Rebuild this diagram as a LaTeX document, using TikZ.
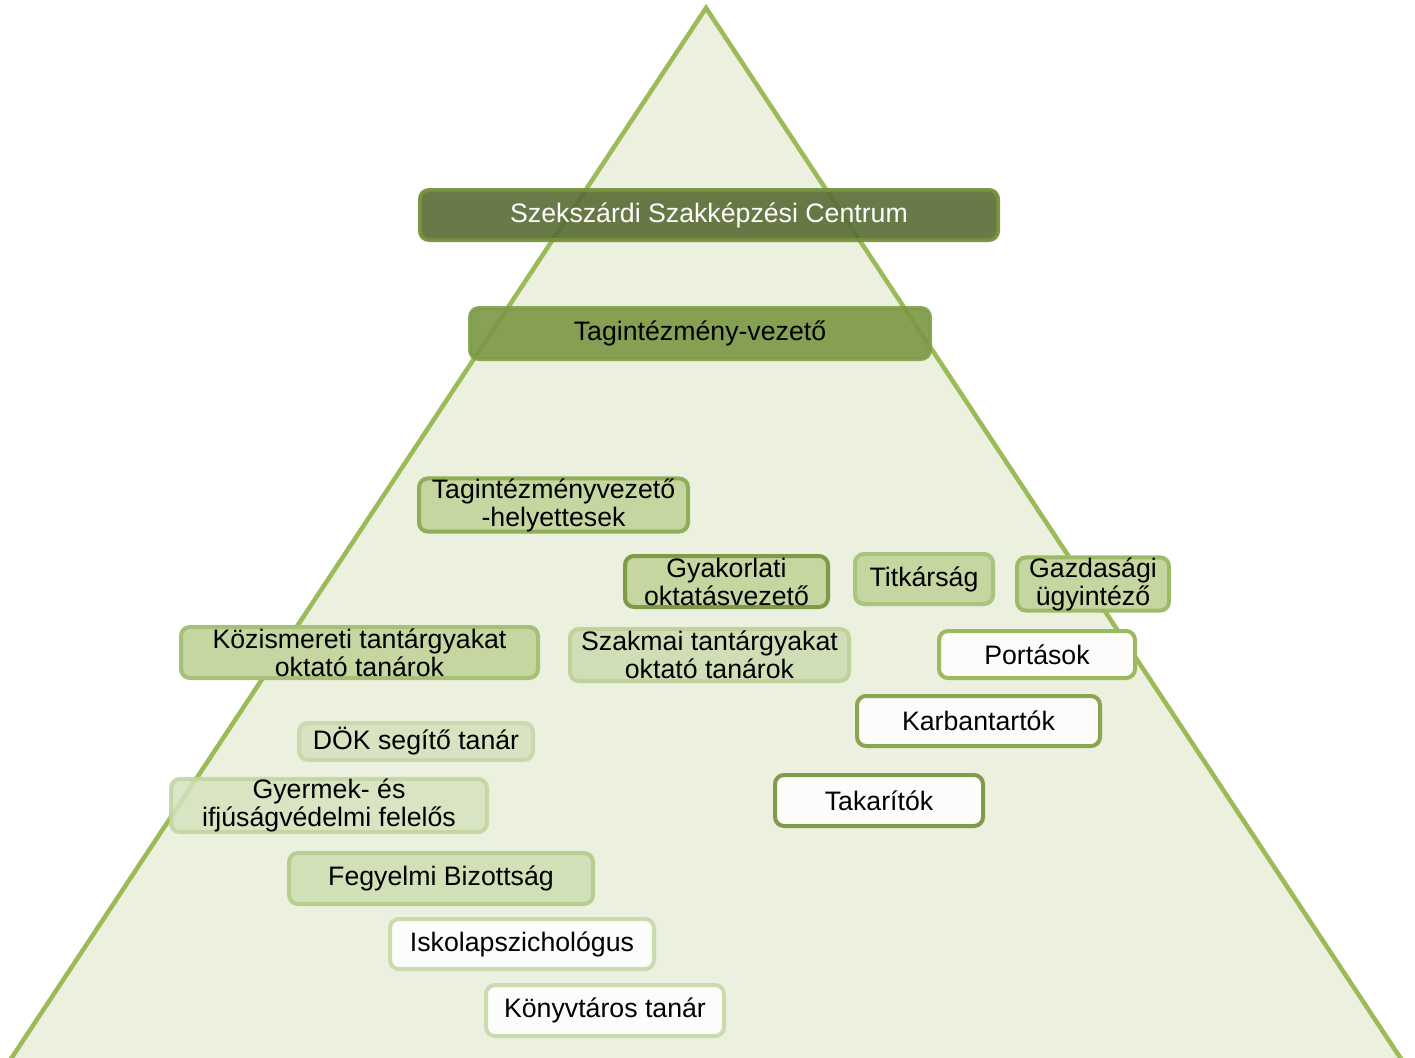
\documentclass[tikz,border=0pt]{standalone}
\usepackage{fontspec}
\setmainfont{Liberation Sans}
\definecolor{triline}{HTML}{9BBB59}
\definecolor{trifill}{HTML}{EBF0DF}
\definecolor{lightfill}{HTML}{C5D6A0}
\definecolor{whitefill}{HTML}{FCFCFA}
\tikzset{
  orgbox/.style={rectangle, rounded corners=9pt, line width=4pt, align=center,
    inner sep=0pt, font=\fontsize{26.7}{28}\selectfont, text=black},
}
\begin{document}
\begin{tikzpicture}[x=1pt,y=-1pt]
\useasboundingbox (0,0) rectangle (1415,1057);
\clip (0,0) rectangle (1415,1057);
% pyramid
\draw[line width=4.5pt, draw=triline, fill=trifill, line join=miter] (706,8) -- (-5,1083) -- (1417,1083) -- cycle;

% boxes
\node[orgbox, fill=lightfill, draw={rgb,255:red,143;green,174;blue,88}, minimum width=269, minimum height=50] (tvh) at (553.5,505) {Tagintézményvezető\\-helyettesek};
\node[orgbox, fill=lightfill, draw={rgb,255:red,126;green,155;blue,72}, minimum width=203, minimum height=51] (gyak) at (726.5,581.5) {Gyakorlati\\oktatásvezető};
\node[orgbox, fill=lightfill, draw={rgb,255:red,169;green,196;blue,126}, minimum width=138, minimum height=50] (titk) at (924,579) {Titkárság};
\node[orgbox, fill=lightfill, draw={rgb,255:red,157;green,187;blue,102}, minimum width=152, minimum height=50] (gazd) at (1093,584) {Gazdasági\\ügyintéző};
\node[orgbox, fill=lightfill, draw={rgb,255:red,166;green,193;blue,119}, minimum width=357, minimum height=51] (koz) at (359.5,652.5) {Közismereti tantárgyakat\\oktató tanárok};
\node[orgbox, fill={rgb,255:red,208;green,222;blue,181}, draw={rgb,255:red,192;green,211;blue,156}, minimum width=279, minimum height=52] (szak) at (709.5,655) {Szakmai tantárgyakat\\oktató tanárok};
\node[orgbox, fill=whitefill, draw={rgb,255:red,155;green,186;blue,96}, minimum width=196, minimum height=47] (port) at (1037,654.5) {Portások};
\node[orgbox, fill=whitefill, draw={rgb,255:red,137;green,166;blue,81}, minimum width=243, minimum height=50] (karb) at (978.5,721) {Karbantartók};
\node[orgbox, fill=whitefill, draw={rgb,255:red,127;green,156;blue,74}, minimum width=208, minimum height=51] (tak) at (879,800.5) {Takarítók};
\node[orgbox, fill={rgb,255:red,215;green,227;blue,193}, draw={rgb,255:red,201;green,217;blue,173}, minimum width=234, minimum height=37] (dok) at (416,741.5) {DÖK segítő tanár};
\node[orgbox, fill={rgb,255:red,213;green,226;blue,189}, fill opacity=0.85, text opacity=1, draw={rgb,255:red,194;green,212;blue,160}, draw opacity=0.85, minimum width=316, minimum height=51] (gyer) at (329,805.5) {Gyermek- és\\ifjúságvédelmi felelős};
\node[orgbox, fill={rgb,255:red,210;green,224;blue,183}, draw={rgb,255:red,184;green,205;blue,144}, minimum width=304, minimum height=51] (feg) at (441,878.5) {Fegyelmi Bizottság};
\node[orgbox, fill=whitefill, draw={rgb,255:red,202;green,219;blue,176}, minimum width=264, minimum height=50] (isk) at (522,944) {Iskolapszichológus};
\node[orgbox, fill=whitefill, draw={rgb,255:red,202;green,219;blue,176}, minimum width=238, minimum height=51] (konyv) at (605,1010.5) {Könyvtáros tanár};

% top boxes (semi-transparent)
\node[orgbox, fill={rgb,255:red,88;green,108;blue,52}, fill opacity=0.9, text opacity=1, draw={rgb,255:red,118;green,146;blue,60}, draw opacity=0.95, text=white, minimum width=578, minimum height=50] (ssc) at (709,215) {Szekszárdi Szakképzési Centrum};
\node[orgbox, fill={rgb,255:red,122;green,152;blue,68}, fill opacity=0.9, text opacity=1, draw={rgb,255:red,128;green,158;blue,74}, draw opacity=0.9, minimum width=460, minimum height=51] (tv) at (700,333.5) {Tagintézmény-vezető};
\end{tikzpicture}
\end{document}
